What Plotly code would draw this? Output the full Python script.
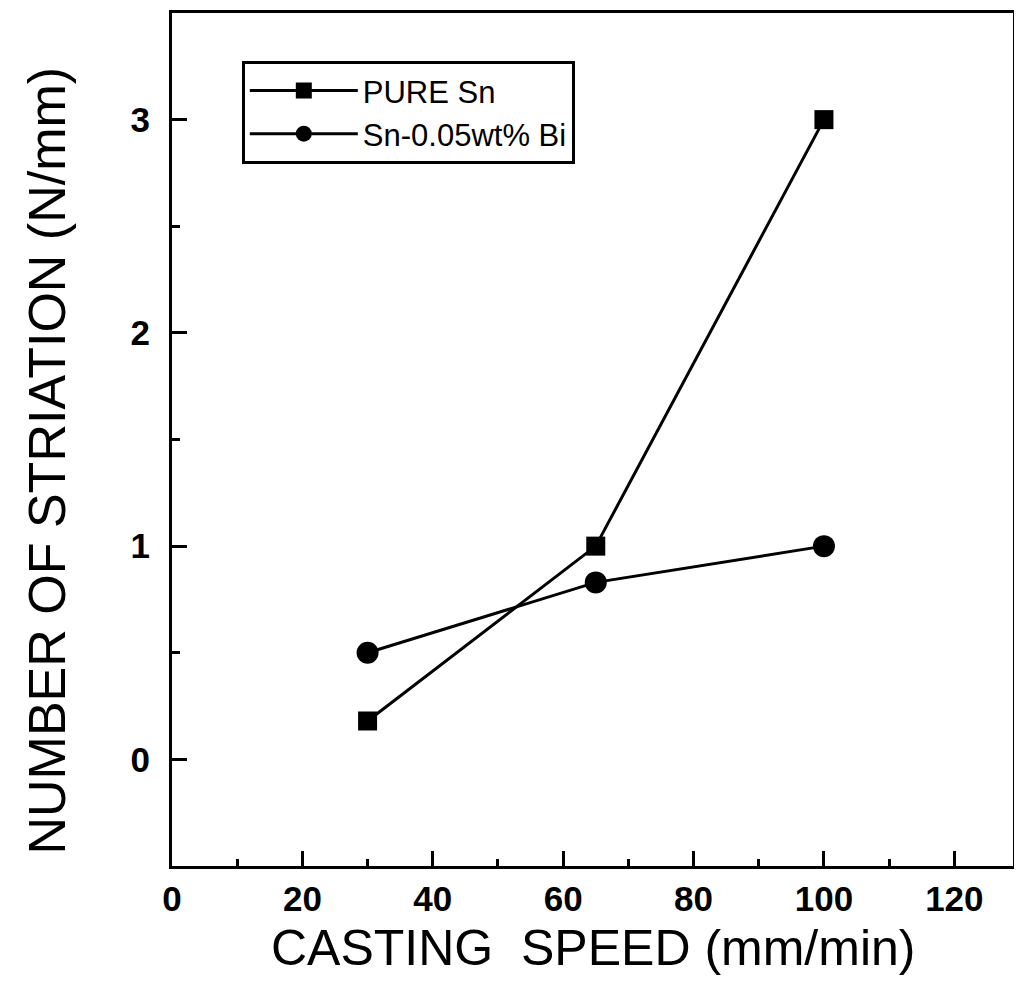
import plotly.graph_objects as go

speed = [30, 65, 100]
pure_sn = [0.18, 1.0, 3.0]
sn_bi = [0.50, 0.83, 1.0]
x_ticks = [0, 20, 40, 60, 80, 100, 120]
y_ticks = [0, 1, 2, 3]

FONT = "Liberation Sans, Arial, sans-serif"

fig = go.Figure()
fig.add_trace(go.Scatter(
    x=speed, y=pure_sn, mode="lines+markers", name="PURE Sn",
    line=dict(color="black", width=3),
    marker=dict(symbol="square", size=19, color="black"),
))
fig.add_trace(go.Scatter(
    x=speed, y=sn_bi, mode="lines+markers", name="Sn-0.05wt% Bi",
    line=dict(color="black", width=3),
    marker=dict(symbol="circle", size=22, color="black"),
))

axis_common = dict(
    showline=True, linecolor="black", linewidth=3, mirror=True,
    showgrid=False, zeroline=False, automargin=False,
    ticks="inside", ticklen=15, tickwidth=3, tickcolor="black",
    tickfont=dict(family=FONT, size=35, color="black", weight="bold"),
)

fig.update_xaxes(
    range=[0, 129], tickvals=x_ticks,
    minor=dict(ticks="inside", ticklen=7, tickwidth=3, tickcolor="black", dtick=10, tick0=0),
    ticklabelstandoff=0,
    **axis_common,
)
fig.update_yaxes(
    range=[-0.5, 3.5], tickvals=y_ticks,
    minor=dict(ticks="inside", ticklen=8, tickwidth=3, tickcolor="black", dtick=0.5, tick0=0),
    ticklabelstandoff=12,
    **axis_common,
)

fig.add_annotation(
    text="CASTING  SPEED (mm/min)", xref="paper", yref="paper",
    x=0.5, y=-0.096, xanchor="center", yanchor="middle", showarrow=False,
    font=dict(family=FONT, size=50, color="black"),
)
fig.add_annotation(
    text="NUMBER OF STRIATION (N/mm)", xref="paper", yref="paper",
    x=-0.149, y=0.475, xanchor="center", yanchor="middle", showarrow=False,
    textangle=-90, font=dict(family=FONT, size=52, color="black"),
)

fig.update_layout(
    width=1014, height=985,
    margin=dict(l=164, r=9, t=5, b=127),
    paper_bgcolor="white", plot_bgcolor="white",
    showlegend=True,
    legend=dict(
        x=0.083, y=0.944, xanchor="left", yanchor="top",
        bordercolor="black", borderwidth=3, bgcolor="white",
        font=dict(family=FONT, size=31, color="black"),
        itemsizing="trace", tracegroupgap=0, itemwidth=108,
    ),
)

fig.write_html("out.html")
